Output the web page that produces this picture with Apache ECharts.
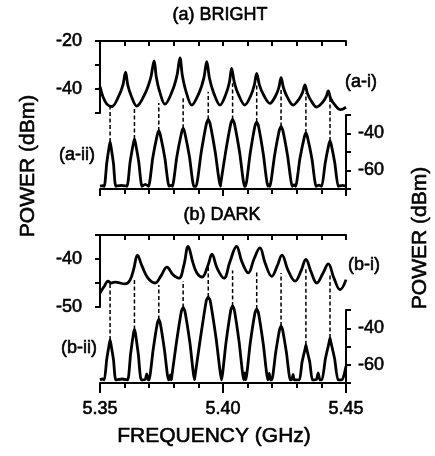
<!DOCTYPE html>
<html>
<head>
<meta charset="utf-8">
<script src="https://cdn.jsdelivr.net/npm/echarts@6/dist/echarts.min.js"></script>
<style>
  html, body { margin: 0; padding: 0; background: #fff; }
  #main { width: 435px; height: 456px; }
</style>
</head>
<body>
<div id="main"></div>
<script>
// frequency axis (GHz)
var freqMin = 5.35, freqMax = 5.45;

// (a-i) bright, upper trace, left axis (dBm)
var brightUpper = [
  [5.3500,-39.0],[5.3512,-43.2],[5.3528,-46.3],[5.3548,-47.3],
  [5.3576,-43.0],[5.3593,-38.4],[5.3604,-33.0],
  [5.3613,-38.4],[5.3627,-42.9],[5.3649,-47.1],
  [5.3685,-41.5],[5.3706,-35.4],[5.3720,-28.3],
  [5.3729,-35.1],[5.3742,-40.9],[5.3764,-46.3],
  [5.3795,-40.5],[5.3813,-34.3],[5.3825,-27.0],
  [5.3835,-34.5],[5.3849,-40.8],[5.3873,-46.7],
  [5.3904,-41.3],[5.3922,-35.5],[5.3934,-28.6],
  [5.3945,-35.5],[5.3961,-41.3],[5.3988,-46.7],
  [5.4012,-42.1],[5.4026,-37.2],[5.4035,-31.4],
  [5.4046,-37.2],[5.4062,-42.1],[5.4089,-46.7],
  [5.4113,-42.7],[5.4127,-38.5],[5.4137,-33.5],
  [5.4148,-38.3],[5.4164,-42.3],[5.4191,-46.0],
  [5.4214,-42.8],[5.4227,-39.4],[5.4236,-35.3],
  [5.4246,-39.6],[5.4261,-43.3],[5.4285,-46.7],
  [5.4309,-44.2],[5.4323,-41.5],[5.4333,-38.3],
  [5.4343,-41.8],[5.4357,-44.7],[5.4381,-47.5],
  [5.4405,-45.5],[5.4419,-43.3],[5.4428,-40.8],
  [5.4437,-43.8],[5.4452,-46.3],[5.4478,-48.6],
  [5.4500,-47.6]
];

// (a-ii) bright, lower trace, right axis (dBm)
var brightLower = [
  [5.3500,-68.5],[5.3510,-68.2],
  [5.3518,-68.5],[5.3527,-56.5],[5.3538,-46.5],[5.3541,-44.6],[5.3544,-46.5],[5.3555,-56.5],[5.3564,-68.5],
  [5.3587,-68.0],
  [5.3610,-68.5],[5.3622,-55.8],[5.3636,-45.0],[5.3640,-43.0],[5.3644,-45.0],[5.3658,-55.8],[5.3670,-68.5],
  [5.3684,-67.5],
  [5.3698,-68.5],[5.3714,-53.5],[5.3733,-40.6],[5.3739,-38.6],[5.3745,-40.6],[5.3764,-53.5],[5.3780,-68.5],
  [5.3788,-68.0],
  [5.3795,-68.5],[5.3812,-52.8],[5.3832,-39.2],[5.3838,-37.2],[5.3844,-39.2],[5.3864,-52.8],[5.3881,-68.5],
  [5.3891,-68.5],[5.3911,-50.5],[5.3933,-34.4],[5.3940,-32.4],[5.3947,-34.4],[5.3969,-50.5],[5.3989,-68.5],
  [5.3991,-68.5],[5.4010,-50.5],[5.4032,-34.4],[5.4039,-32.4],[5.4046,-34.4],[5.4068,-50.5],[5.4087,-68.5],
  [5.4092,-68.5],[5.4110,-51.2],[5.4130,-35.8],[5.4137,-33.8],[5.4144,-35.8],[5.4164,-51.2],[5.4182,-68.5],
  [5.4187,-67.6],
  [5.4191,-68.5],[5.4209,-52.4],[5.4229,-38.2],[5.4236,-36.2],[5.4243,-38.2],[5.4263,-52.4],[5.4281,-68.5],
  [5.4289,-67.8],
  [5.4296,-68.5],[5.4312,-54.1],[5.4331,-41.7],[5.4337,-39.7],[5.4343,-41.7],[5.4362,-54.1],[5.4378,-68.5],
  [5.4390,-67.9],
  [5.4402,-68.5],[5.4415,-56.3],[5.4430,-46.0],[5.4435,-44.0],[5.4440,-46.0],[5.4455,-56.3],[5.4468,-68.5],
  [5.4485,-68.0],[5.4500,-68.3]
];

// (b-i) dark, upper trace, left axis (dBm)
var darkUpper = [
  [5.3500,-47.1],[5.3516,-45.8],[5.3533,-44.6],[5.3545,-45.0],[5.3561,-44.8],[5.3602,-45.2],[5.3622,-44.4],[5.3638,-41.9],
  [5.3652,-39.2],[5.3671,-41.5],[5.3695,-44.0],[5.3724,-45.0],[5.3748,-43.5],[5.3772,-41.7],[5.3797,-43.3],[5.3821,-44.0],
  [5.3841,-41.3],[5.3858,-37.4],[5.3878,-40.8],[5.3894,-42.9],[5.3915,-43.75],[5.3939,-41.3],[5.3955,-39.0],[5.3976,-41.9],
  [5.4004,-44.0],[5.4028,-40.6],[5.4055,-37.4],[5.4077,-40.6],[5.4103,-42.9],[5.4126,-40.0],[5.4150,-37.7],[5.4171,-40.8],
  [5.4198,-43.6],[5.4220,-41.5],[5.4240,-39.2],[5.4264,-42.3],[5.4293,-44.6],[5.4317,-42.5],[5.4337,-40.1],[5.4358,-42.7],
  [5.4381,-45.0],[5.4407,-42.9],[5.4428,-41.0],[5.4451,-44.0],[5.4476,-46.4],[5.4500,-44.3]
];

// (b-ii) dark, lower trace, right axis (dBm)
var darkLower = [
  [5.3500,-68.3],[5.3510,-67.8],
  [5.3518,-68.3],[5.3527,-57.4],[5.3538,-48.4],[5.3541,-46.4],[5.3544,-48.4],[5.3555,-57.4],[5.3564,-68.3],
  [5.3590,-67.8],
  [5.3613,-68.3],[5.3624,-54.5],[5.3636,-42.7],[5.3640,-40.7],[5.3644,-42.7],[5.3656,-54.5],[5.3667,-68.3],
  [5.3684,-68.0],[5.3690,-65.0],[5.3696,-68.3],
  [5.3700,-68.3],[5.3716,-51.8],[5.3733,-37.2],[5.3739,-35.2],[5.3745,-37.2],[5.3762,-51.8],[5.3778,-68.3],
  [5.3782,-68.0],[5.3786,-65.5],[5.3790,-68.3],
  [5.3792,-68.3],[5.3810,-48.5],[5.3831,-30.6],[5.3838,-28.6],[5.3845,-30.6],[5.3866,-48.5],[5.3884,-68.3],
  [5.3886,-68.3],[5.3908,-45.6],[5.3932,-24.9],[5.3940,-22.9],[5.3948,-24.9],[5.3972,-45.6],[5.3994,-68.3],
  [5.4012,-48.0],[5.4032,-29.8],[5.4039,-27.8],[5.4046,-29.8],[5.4066,-48.0],[5.4084,-68.3],
  [5.4089,-64.5],[5.4093,-68.3],
  [5.4110,-48.9],[5.4130,-31.5],[5.4137,-29.5],[5.4144,-31.5],[5.4164,-48.9],[5.4182,-68.3],
  [5.4188,-64.8],[5.4193,-68.3],
  [5.4199,-68.3],[5.4214,-53.5],[5.4230,-40.7],[5.4236,-38.7],[5.4242,-40.7],[5.4258,-53.5],[5.4273,-68.3],
  [5.4280,-68.0],[5.4285,-65.3],[5.4290,-68.3],
  [5.4311,-68.3],[5.4321,-58.7],[5.4334,-51.1],[5.4337,-49.1],[5.4340,-51.1],[5.4353,-58.7],[5.4363,-68.3],
  [5.4380,-68.0],[5.4387,-64.4],[5.4394,-68.3],
  [5.4403,-68.3],[5.4416,-56.8],[5.4432,-47.3],[5.4435,-45.3],[5.4438,-47.3],[5.4454,-56.8],[5.4467,-68.3],
  [5.4485,-68.3],[5.4500,-60.8]
];

// dashed guide lines: lower-trace peak -> upper trace
var peakFreqs      = [5.3541, 5.3640, 5.3739, 5.3838, 5.3940, 5.4039, 5.4137, 5.4236, 5.4337, 5.4435];
var brightPeakDb   = [-44.6, -43.0, -38.6, -37.2, -32.4, -32.4, -33.8, -36.2, -39.7, -44.0];
var brightDashTop  = [-47.4, -47.4, -45.8, -43.75, -41.1, -37.6, -38.3, -39.7, -41.8, -43.9];
var darkPeakDb     = [-46.4, -40.7, -35.2, -28.6, -22.9, -27.8, -29.5, -38.7, -49.1, -45.3];
var darkDashTop    = [-45.0, -44.0, -45.4, -44.6, -41.6, -42.4, -42.6, -42.9, -42.1, -42.9];

var FONT = '"Liberation Sans", Arial, Helvetica, sans-serif';
var BLACK = '#000';

var chart = echarts.init(document.getElementById('main'));

var axLine = { show: true, lineStyle: { color: BLACK, width: 2 } };
var tickStyle = { color: BLACK, width: 2 };
// the scanned original has heavy type, so thicken glyphs a little
var heavy = { textBorderColor: BLACK, textBorderWidth: 0.6 };

function topX(g) {
  return {
    type: 'value', gridIndex: g, position: 'top', min: freqMin, max: freqMax, interval: 0.01,
    axisLine: axLine, splitLine: { show: false },
    axisTick: { inside: true, length: 5, lineStyle: tickStyle },
    axisLabel: { show: false }
  };
}
function bottomX(g, labels) {
  return {
    type: 'value', gridIndex: g, position: 'bottom', min: freqMin, max: freqMax, interval: 0.05,
    axisLine: axLine, splitLine: { show: false }, minorSplitLine: { show: false },
    axisTick: { length: labels ? 10 : 7, lineStyle: tickStyle },
    minorTick: { show: true, splitNumber: 5, length: 5, lineStyle: tickStyle },
    axisLabel: Object.assign({
      show: labels, margin: 17, color: BLACK, fontSize: 18, fontFamily: FONT,
      formatter: function (v) { return v.toFixed(2); }
    }, heavy)
  };
}
function yAx(g, pos, min, max, step, every, margin) {
  return {
    type: 'value', gridIndex: g, position: pos, min: min, max: max, interval: step,
    axisLine: axLine, splitLine: { show: false },
    axisTick: { length: 5, lineStyle: tickStyle },
    axisLabel: Object.assign({
      margin: margin, color: BLACK, fontSize: 18, fontFamily: FONT,
      formatter: function (v) { return (v % every === 0) ? String(v) : ''; }
    }, heavy)
  };
}
function trace(xi, data, smooth) {
  return {
    type: 'line', xAxisIndex: xi, yAxisIndex: xi, data: data,
    showSymbol: false, smooth: smooth, clip: false, silent: true,
    lineStyle: { color: BLACK, width: 2.8 }
  };
}

chart.setOption({
  animation: false,
  backgroundColor: '#fff',
  grid: [
    { left: 100, right: 89, top: 41, height: 72 },
    { left: 100, right: 89, top: 115, height: 74 },
    { left: 100, right: 89, top: 235, height: 72 },
    { left: 100, right: 89, top: 310, height: 73 }
  ],
  xAxis: [topX(0), bottomX(1, false), topX(2), bottomX(3, true)],
  yAxis: [
    yAx(0, 'left', -50, -20, 10, 20, 18),
    yAx(1, 'right', -70, -30, 10, 20, 12),
    yAx(2, 'left', -50, -35, 5, 10, 18),
    yAx(3, 'right', -70, -30, 10, 20, 12)
  ],
  series: [
    trace(0, brightUpper, 0.35),
    trace(1, brightLower, 0.15),
    trace(2, darkUpper, 0.4),
    trace(3, darkLower, 0.15)
  ]
});

function txt(s, x, y, size, align, rot) {
  return {
    type: 'text', x: x, y: y, rotation: rot || 0, silent: true,
    style: {
      text: s, fill: BLACK, font: size + 'px ' + FONT,
      stroke: BLACK, lineWidth: 0.6,
      align: align || 'center', verticalAlign: 'middle'
    }
  };
}

var g = [
  txt('(a) BRIGHT', 220, 15, 18),
  txt('(b) DARK', 222, 215, 18),
  txt('FREQUENCY (GHz)', 214, 436, 21),
  txt('POWER (dBm)', 28, 166, 21, 'center', Math.PI / 2),
  txt('POWER (dBm)', 420, 238, 21, 'center', Math.PI / 2),
  txt('(a-i)', 345, 82, 18, 'left'),
  txt('(a-ii)', 59, 155, 18, 'left'),
  txt('(b-i)', 348, 265, 18, 'left'),
  txt('(b-ii)', 61, 348, 18, 'left')
];

function dashes(upperGrid, lowerGrid, peaks, tops) {
  peakFreqs.forEach(function (f, i) {
    var p1 = chart.convertToPixel({ gridIndex: lowerGrid }, [f, peaks[i]]);
    var p2 = chart.convertToPixel({ gridIndex: upperGrid }, [f, tops[i]]);
    g.push({
      type: 'line', silent: true,
      shape: { x1: p1[0], y1: p1[1], x2: p2[0], y2: p2[1] },
      style: { stroke: BLACK, lineWidth: 1.5, lineDash: [4, 2.5] }
    });
  });
}
dashes(0, 1, brightPeakDb, brightDashTop);
dashes(2, 3, darkPeakDb, darkDashTop);

chart.setOption({ graphic: g });
</script>
</body>
</html>
